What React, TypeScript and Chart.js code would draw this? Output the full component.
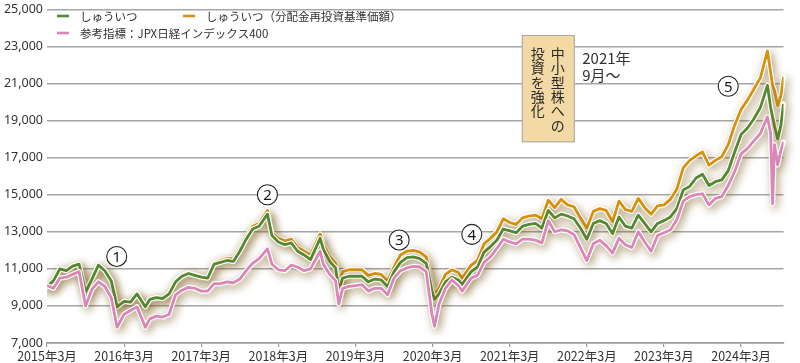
import React, { useEffect, useRef } from "react";
import { Chart, registerables } from "chart.js";

Chart.register(...registerables);

// months elapsed since 2015年3月
const monthOffsets = [
  0, 1, 2, 3, 4, 5, 6, 7, 8, 9, 10, 10.9, 12, 13, 14, 15.3, 16, 17, 18, 19,
  20, 21, 22, 23, 24, 25, 26, 27, 28, 29, 30, 31, 32, 33, 34.3, 35, 36, 37, 38, 39,
  40, 41, 42.5, 43, 44, 44.9, 45.4, 46, 47, 48, 49, 50, 51, 52, 53, 54, 55, 56, 57, 58,
  59, 59.9, 60.3, 61, 62, 63, 64, 64.6, 66, 67, 68, 69, 70, 71, 72, 73, 74, 75, 76, 77,
  78, 79, 80, 81, 82, 83, 84, 85, 86, 87, 88, 89, 90, 91, 92, 93, 94, 95, 96, 97,
  98, 99, 100, 101, 102, 103, 104, 105, 106, 107, 108, 109, 110, 111, 112.1, 112.6, 112.9, 113.2, 113.7, 114.2,
  114.6,
];

const shuuitsuNav = [
  10050, 10350, 11000, 10900, 11150, 11250, 9750, 10450, 11200, 10900, 10350, 8950, 9250, 9200, 9650, 8950, 9350, 9450, 9400, 9650,
  10300, 10600, 10750, 10650, 10550, 10500, 11250, 11350, 11450, 11400, 11950, 12600, 13150, 13300, 13950, 12800, 12450, 12300, 12400, 11950,
  11750, 11500, 12650, 12050, 11400, 11050, 9850, 10500, 10600, 10600, 10600, 10300, 10450, 10400, 10050, 10850, 11350, 11600, 11650, 11550,
  11300, 9800, 9350, 9650, 10300, 10550, 10400, 10150, 10850, 11100, 11900, 12200, 12550, 13150, 13050, 12950, 13300, 13400, 13450, 13200,
  14150, 13750, 13950, 13850, 13700, 13200, 12600, 13450, 13600, 13450, 12900, 13800, 13300, 13200, 13900, 13450, 13000, 13450, 13600, 13800,
  14250, 15250, 15450, 15900, 16100, 15500, 15700, 15800, 16300, 17300, 18250, 18600, 19100, 19700, 20900, 19700, 19200, 18700, 18000, 18750,
  19900,
];

const shuuitsuReinvested = [
  10050, 10350, 11000, 10900, 11150, 11250, 9750, 10450, 11200, 10900, 10350, 8950, 9250, 9200, 9650, 8950, 9350, 9450, 9400, 9650,
  10350, 10650, 10800, 10700, 10600, 10550, 11300, 11450, 11550, 11550, 12100, 12750, 13300, 13450, 14150, 12950, 12650, 12500, 12600, 12150,
  11950, 11750, 12880, 12300, 11650, 11300, 10150, 10850, 10950, 10950, 10950, 10650, 10750, 10700, 10350, 11100, 11750, 11950, 12000, 11900,
  11650, 10150, 9600, 9950, 10700, 10950, 10800, 10500, 11200, 11450, 12350, 12650, 13000, 13700, 13500, 13400, 13750, 13850, 13900, 13700,
  14700, 14300, 14750, 14450, 14350, 13750, 13200, 14100, 14250, 14150, 13550, 14650, 14200, 14100, 14800, 14300, 13950, 14400, 14450, 14750,
  15300, 16450, 16850, 17100, 17300, 16600, 16850, 17050, 17700, 18750, 19600, 20100, 20700, 21300, 22750, 21600, 20900, 20600, 19800, 20350,
  21350,
];

const jpxNikkei400 = [
  10100, 9950, 10500, 10550, 10700, 10850, 9000, 9900, 10300, 10050, 9450, 7850, 8550, 8750, 8950, 7850, 8300, 8450, 8400, 8550,
  9600, 9850, 10000, 9950, 9800, 9800, 10200, 10200, 10300, 10250, 10450, 10900, 11300, 11550, 12080, 11250, 10950, 10900, 11200, 11100,
  10900, 11000, 11950, 11250, 10700, 10350, 9100, 9950, 10050, 10100, 10150, 9800, 9950, 9950, 9600, 10500, 10900, 11050, 11130, 11100,
  10850, 8550, 7900, 9100, 9950, 10400, 10100, 9800, 10500, 10650, 11350, 11650, 12100, 12600, 12450, 12350, 12600, 12600, 12550, 12400,
  13600, 13000, 13100, 13050, 12850, 12150, 11450, 12350, 12550, 12250, 11850, 12650, 12300, 12150, 13000, 12450, 11950, 12800, 12950, 13100,
  13650, 14650, 14900, 15000, 15050, 14450, 14800, 14900, 15500, 16250, 17200, 17500, 17900, 18300, 19200, 18300, 14500, 17700, 16600, 17400,
  17850,
];

const xTickMonths = [0, 12, 24, 36, 48, 60, 72, 84, 96, 108];
const xTickLabels = [
  "2015年3月", "2016年3月", "2017年3月", "2018年3月", "2019年3月",
  "2020年3月", "2021年3月", "2022年3月", "2023年3月", "2024年3月",
];
const yTickValues = [7000, 9000, 11000, 13000, 15000, 17000, 19000, 21000, 23000, 25000];

const seriesLabels = [
  "しゅういつ",
  "しゅういつ（分配金再投資基準価額）",
  "参考指標：JPX日経インデックス400",
];
const seriesColors = ["#55892f", "#d6920e", "#da86b6"];

const eventLabels = ["1", "2", "3", "4", "5"];
const eventMonths = [10.85, 34.3, 54.8, 66.1, 106.0];
const eventValues = [11670, 15000, 12560, 12860, 20850];

const noteMonth = 78;
const noteColumns = ["中小型株への", "投資を強化"];
const noteDateLines = ["2021年", "9月～"];

const toPoints = (vals: number[]) => vals.map((v, i) => ({ x: monthOffsets[i], y: v }));

const haloPlugin = {
  id: "halo",
  beforeDatasetDraw(chart: any, args: any) {
    const pts = args.meta.data;
    const ctx = chart.ctx;
    const a = chart.chartArea;
    ctx.save();
    ctx.beginPath();
    ctx.rect(a.left, a.top - 10, a.right - a.left + 12, a.bottom - a.top + 10);
    ctx.clip();
    ctx.beginPath();
    pts.forEach((p: any, i: number) => (i ? ctx.lineTo(p.x, p.y) : ctx.moveTo(p.x, p.y)));
    ctx.lineJoin = "round";
    ctx.lineCap = "round";
    ctx.strokeStyle = "#ffffff";
    ctx.lineWidth = 5.2;
    ctx.shadowColor = "rgba(125,92,28,0.62)";
    ctx.shadowBlur = 9;
    ctx.shadowOffsetX = 2.5;
    ctx.shadowOffsetY = 3;
    ctx.stroke();
    ctx.restore();
  },
};

const decorPlugin = {
  id: "decor",
  afterDraw(chart: any) {
    const { ctx, chartArea } = chart;
    const xs = chart.scales.x;
    const ys = chart.scales.y;
    ctx.save();

    // legend
    const legendPos = [
      [57, 16],
      [183, 16],
      [57, 33],
    ];
    ctx.font = '11.5px "Noto Sans CJK JP"';
    ctx.textBaseline = "middle";
    ctx.textAlign = "left";
    legendPos.forEach(([lx, ly], i) => {
      ctx.strokeStyle = seriesColors[i];
      ctx.lineWidth = 2.6;
      ctx.beginPath();
      ctx.moveTo(lx, ly);
      ctx.lineTo(lx + 12, ly);
      ctx.stroke();
      ctx.fillStyle = "#333";
      ctx.fillText(seriesLabels[i], lx + 23, ly + 0.5);
    });

    // circled event numbers
    eventLabels.forEach((lab, i) => {
      const px = xs.getPixelForValue(eventMonths[i]);
      const py = ys.getPixelForValue(eventValues[i]);
      ctx.beginPath();
      ctx.arc(px, py, 10, 0, Math.PI * 2);
      ctx.fillStyle = "#fff";
      ctx.fill();
      ctx.lineWidth = 1.1;
      ctx.strokeStyle = "#222";
      ctx.stroke();
      ctx.fillStyle = "#1a1a1a";
      ctx.font = '15px "Noto Sans"';
      ctx.textAlign = "center";
      ctx.textBaseline = "middle";
      ctx.fillText(lab, px, py + 1);
    });

    // note box
    const cx = xs.getPixelForValue(noteMonth);
    const bw = 53;
    const top = chartArea.top + 25.7;
    const bh = 107.3;
    ctx.fillStyle = "#f3d9a3";
    ctx.fillRect(cx - bw / 2, top, bw, bh);
    ctx.strokeStyle = "#a8a8a8";
    ctx.lineWidth = 1;
    ctx.strokeRect(cx - bw / 2 + 0.5, top + 0.5, bw - 1, bh - 1);
    ctx.fillStyle = "#2a2a2a";
    ctx.font = '14px "Noto Sans CJK JP"';
    ctx.textAlign = "center";
    ctx.textBaseline = "middle";
    noteColumns.forEach((col, ci) => {
      const colX = cx + 9.5 - ci * 20;
      Array.from(col).forEach((ch, k) => {
        ctx.fillText(ch, colX, top + 18.8 + k * 14.3);
      });
    });

    ctx.font = '15px "Noto Sans CJK JP"';
    ctx.textAlign = "left";
    ctx.textBaseline = "alphabetic";
    ctx.fillStyle = "#333";
    noteDateLines.forEach((t, i) => {
      ctx.fillText(t, cx + 34, top + 28.5 + i * 17);
    });

    ctx.restore();
  },
};

export default function App() {
  const ref = useRef<HTMLCanvasElement | null>(null);

  useEffect(() => {
    if (!ref.current) return;
    const datasets = [2, 0, 1].map((i) => ({
      label: seriesLabels[i],
      data: toPoints([shuuitsuNav, shuuitsuReinvested, jpxNikkei400][i]),
      borderColor: seriesColors[i],
      backgroundColor: seriesColors[i],
      borderWidth: 2.8,
      pointRadius: 0,
      tension: 0,
      borderJoinStyle: "round" as const,
    }));
    const chart = new Chart(ref.current, {
      type: "line",
      data: { datasets },
      plugins: [haloPlugin, decorPlugin],
      options: {
        responsive: false,
        animation: false,
        devicePixelRatio: 1,
        layout: { padding: { left: 0, right: 16.5, top: 0, bottom: 0 } },
        plugins: { legend: { display: false }, tooltip: { enabled: false } },
        scales: {
          x: {
            type: "linear",
            min: 0,
            max: 114.6,
            afterFit: (s: any) => {
              s.height = 20;
            },
            afterBuildTicks: (s: any) => {
              s.ticks = xTickMonths.map((v) => ({ value: v }));
            },
            ticks: {
              autoSkip: false,
              maxRotation: 0,
              padding: 2,
              color: "#333",
              font: { family: '"Noto Sans CJK JP"', size: 12.5 },
              callback: (v: any) => {
                const idx = xTickMonths.indexOf(Number(v));
                return idx >= 0 ? xTickLabels[idx] : "";
              },
            },
            grid: { drawOnChartArea: false, drawTicks: true, tickLength: 4, color: "#9a9a9a", lineWidth: 1.2 },
            border: { display: true, color: "#9a9a9a", width: 1.5 },
          },
          y: {
            min: 7000,
            max: 25000,
            afterFit: (s: any) => {
              s.width = 47;
            },
            afterBuildTicks: (s: any) => {
              s.ticks = yTickValues.map((v) => ({ value: v }));
            },
            ticks: {
              padding: 4,
              color: "#333",
              font: { family: '"Noto Sans"', size: 12.5, lineHeight: 0.85 },
              callback: (v: any) => Number(v).toLocaleString("en-US"),
            },
            grid: { drawTicks: false, color: "#a6a6a6", lineWidth: 1.5 },
            border: { display: false },
          },
        },
      },
    });
    return () => chart.destroy();
  }, []);

  return (
    <div style={{ position: "absolute", left: 0, top: 0, width: 800, height: 363, background: "#fff" }}>
      <canvas ref={ref} width={800} height={363} style={{ display: "block" }} />
    </div>
  );
}
